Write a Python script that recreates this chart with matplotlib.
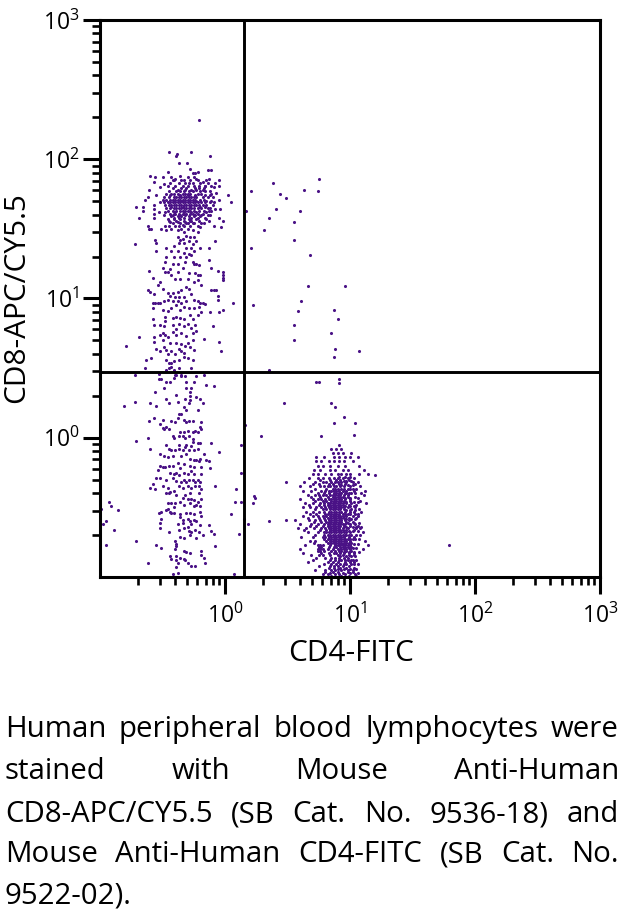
import numpy as np
import matplotlib
matplotlib.use("Agg")
import matplotlib.pyplot as plt

plt.rcParams['font.family'] = ['Open Sans', 'DejaVu Sans']
plt.rcParams['mathtext.default'] = 'regular'

# all events are read off the plot as decades (log10 of the axis value)
# dense clusters: (CD8 decade, [CD4 decades])
cd8_core_rows = [
    (1.79, [-0.42, -0.35, -0.31, -0.24, -0.21, -0.17]),
    (1.77, [-0.45, -0.39, -0.36, -0.33, -0.29, -0.26, -0.20, -0.16, -0.12]),
    (1.75, [-0.47, -0.43, -0.41, -0.38, -0.34, -0.32, -0.30, -0.28, -0.22, -0.19, -0.11]),
    (1.73, [-0.49, -0.45, -0.41, -0.39, -0.37, -0.35, -0.33, -0.31, -0.29, -0.27, -0.25, -0.23, -0.18, -0.14, -0.10]),
    (1.71, [-0.50, -0.47, -0.44, -0.42, -0.40, -0.38, -0.36, -0.34, -0.32, -0.30, -0.28, -0.26, -0.24, -0.20, -0.17]),
    (1.69, [-0.49, -0.46, -0.44, -0.42, -0.40, -0.38, -0.36, -0.34, -0.32, -0.30, -0.28, -0.26, -0.24, -0.22, -0.19, -0.16, -0.12, -0.09]),
    (1.67, [-0.48, -0.45, -0.43, -0.41, -0.39, -0.37, -0.35, -0.33, -0.31, -0.29, -0.27, -0.25, -0.23, -0.21, -0.18, -0.15, -0.10]),
    (1.65, [-0.47, -0.44, -0.41, -0.39, -0.37, -0.35, -0.33, -0.31, -0.29, -0.27, -0.25, -0.22, -0.19, -0.14, -0.12]),
    (1.63, [-0.46, -0.42, -0.39, -0.36, -0.34, -0.32, -0.30, -0.28, -0.25, -0.21, -0.17, -0.13, -0.11]),
    (1.61, [-0.44, -0.40, -0.37, -0.34, -0.31, -0.28, -0.26, -0.22, -0.18]),
    (1.59, [-0.43, -0.38, -0.35, -0.29, -0.25, -0.20]),
]
cd8_fill_rows = [
    (1.85, [-0.41, -0.35, -0.28, -0.22, -0.15]),
    (1.83, [-0.44, -0.37, -0.32, -0.26, -0.20, -0.14]),
    (1.81, [-0.46, -0.40, -0.34, -0.30, -0.25, -0.21, -0.16, -0.11]),
    (1.78, [-0.38, -0.32, -0.27, -0.23, -0.18]),
    (1.74, [-0.44, -0.36, -0.30, -0.24, -0.16, -0.12]),
    (1.70, [-0.41, -0.35, -0.29, -0.23, -0.15, -0.11]),
    (1.66, [-0.43, -0.34, -0.28, -0.20, -0.16]),
    (1.62, [-0.48, -0.41, -0.33, -0.27, -0.23, -0.15]),
    (1.60, [-0.42, -0.36, -0.32, -0.24, -0.19, -0.14]),
    (1.58, [-0.41, -0.37, -0.33, -0.27, -0.22, -0.16]),
    (1.56, [-0.45, -0.39, -0.33, -0.28, -0.21, -0.13]),
    (1.54, [-0.42, -0.36, -0.31, -0.26, -0.19]),
    (1.52, [-0.45, -0.37, -0.33, -0.28, -0.22]),
]
cd8_halo = [
    (-0.21, 2.285), (-0.445, 2.05), (-0.386, 2.037), (-0.39, 2.02), (-0.274, 2.05), (-0.12, 2.02),
    (-0.368, 1.974), (-0.306, 1.974), (-0.282, 1.93), (-0.26, 1.90), (-0.24, 1.90), (-0.22, 1.91),
    (-0.25, 1.87), (-0.23, 1.86), (-0.134, 1.924), (-0.115, 1.924), (-0.60, 1.88), (-0.57, 1.84),
    (-0.56, 1.87), (-0.50, 1.875), (-0.46, 1.91), (-0.49, 1.82), (-0.52, 1.80), (-0.43, 1.87),
    (-0.42, 1.85), (-0.40, 1.86), (-0.36, 1.88), (-0.33, 1.85), (-0.30, 1.87), (-0.29, 1.83),
    (-0.18, 1.84), (-0.16, 1.81), (-0.13, 1.86), (-0.72, 1.39), (-0.71, 1.66), (-0.69, 1.58),
    (-0.66, 1.66), (-0.66, 1.63), (-0.64, 1.71), (-0.62, 1.73), (-0.61, 1.78), (-0.62, 1.52),
    (-0.59, 1.50), (-0.61, 1.50), (-0.57, 1.67), (-0.57, 1.64), (-0.57, 1.61), (-0.57, 1.58),
    (-0.55, 1.74), (-0.52, 1.69), (-0.53, 1.62), (-0.49, 1.60), (-0.51, 1.50), (-0.48, 1.52),
    (-0.44, 1.55), (-0.40, 1.52), (-0.36, 1.57), (-0.32, 1.55), (-0.29, 1.57), (-0.25, 1.54),
    (-0.20, 1.51), (-0.17, 1.54), (-0.09, 1.52), (-0.03, 1.51), (-0.02, 1.56), (-0.05, 1.58),
    (-0.08, 1.64), (-0.04, 1.64), (-0.05, 1.71), (-0.07, 1.76), (-0.05, 1.81), (-0.08, 1.83),
    (-0.09, 1.80), (0.02, 1.74), (0.05, 1.69), (-0.05, 1.85), (-0.46, 1.57), (-0.41, 1.57),
    (-0.38, 1.55), (-0.34, 1.53), (-0.30, 1.54), (-0.27, 1.56), (-0.23, 1.57), (-0.15, 1.57),
    (-0.12, 1.60), (-0.47, 1.49), (-0.43, 1.50), (-0.38, 1.49), (-0.35, 1.50), (-0.33, 1.48),
    (-0.30, 1.50), (-0.26, 1.49), (-0.22, 1.48), (-0.38, 1.44), (-0.36, 1.42), (-0.34, 1.43),
    (-0.31, 1.45), (-0.28, 1.44), (-0.25, 1.44), (-0.41, 1.38), (-0.37, 1.40), (-0.33, 1.40),
    (-0.29, 1.41), (-0.26, 1.39), (-0.08, 1.41), (-0.23, 1.41), (-0.27, 1.36), (-0.31, 1.36),
]
cd8_mid = [
    (-0.56, 1.42), (-0.55, 1.40), (-0.55, 1.34), (-0.47, 1.36), (-0.47, 1.30), (-0.43, 1.34),
    (-0.41, 1.30), (-0.38, 1.34), (-0.36, 1.30), (-0.33, 1.33), (-0.31, 1.30), (-0.29, 1.32),
    (-0.27, 1.31), (-0.25, 1.34), (-0.13, 1.36), (-0.20, 1.36), (-0.61, 1.20), (-0.58, 1.15),
    (-0.54, 1.10), (-0.52, 1.12), (-0.50, 1.07), (-0.50, 1.22), (-0.48, 1.26), (-0.48, 1.19),
    (-0.46, 1.19), (-0.44, 1.21), (-0.43, 1.17), (-0.42, 1.25), (-0.40, 1.14), (-0.38, 1.19),
    (-0.38, 1.25), (-0.36, 1.14), (-0.34, 1.22), (-0.32, 1.26), (-0.30, 1.14), (-0.29, 1.18),
    (-0.26, 1.26), (-0.25, 1.25), (-0.23, 1.25), (-0.21, 1.24), (-0.24, 1.18), (-0.22, 1.17),
    (-0.20, 1.17), (-0.25, 1.12), (-0.22, 1.13), (-0.19, 1.10), (-0.13, 1.28), (-0.11, 1.22),
    (-0.02, 1.19), (-0.02, 1.17), (-0.02, 1.15), (-0.02, 1.13), (-0.06, 1.20), (-0.11, 1.06),
    (-0.09, 1.06), (-0.07, 1.06), (-0.06, 1.02), (-0.06, 0.99), (-0.62, 1.06), (-0.60, 1.05),
    (-0.57, 1.03), (-0.46, 1.04), (-0.44, 1.02), (-0.42, 1.04), (-0.40, 1.01), (-0.38, 1.05),
    (-0.37, 1.01), (-0.35, 1.06), (-0.33, 1.01), (-0.31, 1.08), (-0.29, 1.07), (-0.27, 1.03),
    (-0.58, 0.97), (-0.56, 0.97), (-0.54, 0.97), (-0.52, 0.97), (-0.49, 0.98), (-0.46, 0.99),
    (-0.42, 0.98), (-0.38, 0.98), (-0.35, 0.97), (-0.31, 0.98), (-0.25, 0.99), (-0.22, 0.98),
    (-0.20, 0.97), (-0.18, 0.97), (-0.58, 0.93), (-0.50, 0.92), (-0.46, 0.91), (-0.43, 0.93),
    (-0.39, 0.95), (-0.36, 0.92), (-0.33, 0.94), (-0.29, 0.93), (-0.25, 0.93), (-0.21, 0.94),
    (-0.16, 0.96), (-0.12, 0.90), (-0.05, 0.90), (-0.19, 0.90), (0.06, 0.97), (-0.02, 0.92),
    (-0.48, 0.87), (-0.48, 0.84), (-0.42, 0.86), (-0.39, 0.87), (-0.36, 0.86), (-0.33, 0.85),
    (-0.28, 0.88), (-0.26, 0.85), (-0.22, 0.88), (-0.58, 0.85), (-0.57, 0.81), (-0.52, 0.81),
    (-0.49, 0.80), (-0.42, 0.81), (-0.39, 0.78), (-0.37, 0.82), (-0.33, 0.80), (-0.30, 0.82),
    (-0.27, 0.79), (-0.24, 0.81), (-0.10, 0.80), (-0.50, 0.75), (-0.48, 0.74), (-0.42, 0.76),
    (-0.39, 0.74), (-0.35, 0.75), (-0.31, 0.73), (-0.26, 0.75), (-0.23, 0.77), (-0.57, 0.72),
    (-0.57, 0.69), (-0.52, 0.74), (-0.50, 0.70), (-0.46, 0.72), (-0.44, 0.68), (-0.39, 0.68),
    (-0.35, 0.67), (-0.32, 0.66), (-0.30, 0.68), (-0.26, 0.70), (-0.17, 0.71), (-0.05, 0.69),
    (-0.55, 0.64), (-0.52, 0.62), (-0.49, 0.65), (-0.47, 0.63), (-0.46, 0.60), (-0.43, 0.62),
    (-0.40, 0.60), (-0.37, 0.64), (-0.35, 0.62), (-0.33, 0.61), (-0.28, 0.65), (-0.25, 0.63),
    (-0.03, 0.62), (-0.47, 0.56), (-0.45, 0.54), (-0.43, 0.54), (-0.41, 0.55), (-0.37, 0.56),
    (-0.33, 0.58), (-0.30, 0.57), (-0.26, 0.56), (-0.45, 0.50), (-0.43, 0.51), (-0.41, 0.49),
    (-0.37, 0.50), (-0.27, 0.50), (-0.47, 0.49), (-0.53, 0.46), (-0.40, 0.45), (-0.35, 0.45),
]
cd8_low = [
    (-0.53, 0.42), (-0.51, 0.42), (-0.47, 0.40), (-0.44, 0.40), (-0.41, 0.43), (-0.32, 0.44),
    (-0.31, 0.40), (-0.25, 0.40), (-0.17, 0.45), (-0.15, 0.38), (-0.09, 0.37), (-0.39, 0.45),
    (-0.27, 0.36), (-0.49, 0.36), (-0.35, 0.44), (-0.23, 0.44), (-0.31, 0.36), (-0.28, 0.33),
    (-0.56, 0.33), (-0.39, 0.31), (-0.28, 0.30), (-0.23, 0.29), (-0.20, 0.28), (-0.60, 0.25),
    (-0.55, 0.23), (-0.47, 0.28), (-0.45, 0.25), (-0.38, 0.26), (-0.32, 0.28), (-0.29, 0.25),
    (-0.28, 0.27), (-0.18, 0.25), (-0.33, 0.22), (-0.31, 0.20), (-0.22, 0.20), (-0.37, 0.17),
    (-0.35, 0.17), (-0.61, 0.12), (-0.57, 0.14), (-0.52, 0.10), (-0.50, 0.13), (-0.43, 0.12),
    (-0.40, 0.11), (-0.38, 0.14), (-0.33, 0.13), (-0.31, 0.11), (-0.29, 0.12), (-0.26, 0.12),
    (-0.19, 0.11), (-0.20, 0.08), (-0.50, 0.07), (-0.49, 0.06), (-0.47, 0.08), (-0.45, 0.06),
    (-0.19, 0.06), (-0.36, 0.04), (-0.33, 0.04), (-0.30, 0.05), (-0.26, 0.04), (-0.24, 0.05),
    (-0.22, 0.04), (-0.42, 0.01), (-0.41, 0.00), (-0.37, 0.01), (-0.34, 0.01), (-0.32, 0.00),
    (-0.29, 0.01), (-0.62, 0.00), (-0.26, -0.01), (-0.26, -0.03), (-0.22, -0.04), (-0.20, -0.04),
    (-0.11, -0.04), (-0.47, -0.05), (-0.37, -0.05), (-0.31, -0.05), (-0.27, -0.06), (-0.60, -0.08),
    (-0.45, -0.08), (-0.43, -0.09), (-0.40, -0.09), (-0.37, -0.08), (-0.34, -0.09), (-0.32, -0.07),
    (-0.29, -0.09), (-0.25, -0.09), (-0.22, -0.08), (-0.52, -0.12), (-0.49, -0.13), (-0.46, -0.14),
    (-0.42, -0.13), (-0.35, -0.13), (-0.31, -0.12), (-0.17, -0.12), (-0.20, -0.15), (-0.28, -0.15),
    (-0.25, -0.16), (-0.23, -0.16), (-0.21, -0.17), (-0.15, -0.16), (-0.13, -0.17), (-0.52, -0.20),
    (-0.50, -0.21), (-0.48, -0.21), (-0.45, -0.20), (-0.42, -0.20), (-0.38, -0.18), (-0.36, -0.22),
    (-0.33, -0.19), (-0.28, -0.20), (-0.25, -0.21), (-0.19, -0.21), (-0.12, -0.22), (-0.54, -0.23),
    (-0.44, -0.25), (-0.41, -0.26), (-0.39, -0.25), (-0.37, -0.27), (-0.33, -0.25), (-0.30, -0.26),
    (-0.27, -0.24), (-0.25, -0.26), (-0.19, -0.26), (-0.55, -0.29), (-0.52, -0.29), (-0.47, -0.30),
    (-0.42, -0.29), (-0.39, -0.31), (-0.35, -0.32), (-0.33, -0.30), (-0.31, -0.32), (-0.29, -0.30),
    (-0.26, -0.30), (-0.24, -0.32), (-0.22, -0.30), (-0.20, -0.32), (-0.58, -0.33), (-0.60, -0.36),
    (-0.56, -0.37), (-0.50, -0.35), (-0.46, -0.36), (-0.44, -0.39), (-0.41, -0.38), (-0.37, -0.35),
    (-0.34, -0.36), (-0.30, -0.35), (-0.27, -0.36), (-0.24, -0.35), (-0.21, -0.35), (-0.19, -0.37),
    (-0.08, -0.35), (-0.47, -0.40), (-0.45, -0.40), (-0.39, -0.41), (-0.32, -0.41), (-0.28, -0.40),
    (-0.21, -0.40), (-0.34, -0.43), (-0.30, -0.44), (-0.27, -0.44), (-0.25, -0.45), (-0.22, -0.46),
    (-0.19, -0.44), (-0.46, -0.47), (-0.43, -0.47), (-0.40, -0.47), (-0.36, -0.46), (-0.33, -0.48),
    (-0.28, -0.47), (-0.25, -0.49), (-0.23, -0.48), (-0.20, -0.49), (-0.46, -0.51), (-0.44, -0.53),
    (-0.41, -0.50), (-0.53, -0.54), (-0.51, -0.53), (-0.47, -0.52), (-0.43, -0.54), (-0.41, -0.54),
    (-0.36, -0.55), (-0.31, -0.54), (-0.28, -0.54), (-0.25, -0.55), (-0.20, -0.53), (-0.51, -0.58),
    (-0.36, -0.57), (-0.34, -0.59), (-0.30, -0.58), (-0.28, -0.60), (-0.25, -0.59), (-0.23, -0.60),
    (-0.19, -0.56), (-0.52, -0.61), (-0.38, -0.62), (-0.34, -0.61), (-0.30, -0.64), (-0.27, -0.62),
    (-0.20, -0.63), (-0.13, -0.63), (-0.52, -0.65), (-0.45, -0.68), (-0.37, -0.66), (-0.33, -0.65),
    (-0.29, -0.67), (-0.27, -0.68), (-0.24, -0.66), (-0.21, -0.68), (-0.11, -0.67), (-0.09, -0.69),
    (-0.36, -0.71), (-0.33, -0.72), (-0.28, -0.70), (-0.23, -0.72), (-0.18, -0.70), (-0.55, -0.77),
    (-0.51, -0.79), (-0.40, -0.74), (-0.39, -0.76), (-0.39, -0.78), (-0.40, -0.80), (-0.33, -0.81),
    (-0.31, -0.82), (-0.28, -0.83), (-0.19, -0.81), (-0.08, -0.78), (-0.44, -0.85), (-0.43, -0.87),
    (-0.39, -0.85), (-0.39, -0.88), (-0.38, -0.90), (-0.36, -0.86), (-0.33, -0.87), (-0.19, -0.84),
    (-0.17, -0.86), (-0.32, -0.88), (-0.30, -0.90), (-0.39, -0.93), (-0.27, -0.92), (-0.24, -0.92),
    (-0.42, -0.98), (-0.38, -0.97), (-0.16, -0.90),
]
cd4_core_rows = [
    (-0.98, [0.78, 0.82, 0.88, 0.91, 0.96, 1.04]),
    (-0.965, [0.80, 0.86, 0.90, 0.98, 1.02]),
    (-0.95, [0.72, 0.80, 0.85, 0.88, 0.93, 0.98, 1.02]),
    (-0.935, [0.83, 0.87, 0.92, 0.97, 1.03]),
    (-0.92, [0.75, 0.84, 0.87, 0.90, 0.94, 0.99]),
    (-0.905, [0.79, 0.85, 0.89, 0.95, 1.01]),
    (-0.89, [0.66, 0.82, 0.86, 0.90, 0.96, 1.00, 1.03]),
    (-0.875, [0.70, 0.84, 0.88, 0.93, 0.98, 1.02]),
    (-0.86, [0.73, 0.80, 0.85, 0.88, 0.91, 0.95, 0.98]),
    (-0.845, [0.69, 0.75, 0.78, 0.84, 0.90, 0.94, 0.99, 1.03]),
    (-0.83, [0.62, 0.77, 0.83, 0.87, 0.89, 0.92, 0.95, 0.99, 1.03]),
    (-0.815, [0.74, 0.76, 0.79, 0.85, 0.88, 0.91, 0.93, 0.97, 1.01]),
    (-0.80, [0.60, 0.74, 0.76, 0.78, 0.82, 0.86, 0.90, 0.93, 0.95, 0.97, 1.00, 1.10]),
    (-0.785, [0.75, 0.77, 0.83, 0.87, 0.89, 0.92, 0.94, 0.96, 0.98, 1.01]),
    (-0.77, [0.64, 0.74, 0.76, 0.78, 0.84, 0.88, 0.90, 0.92, 0.94, 0.96, 0.98, 1.00, 1.14]),
    (-0.755, [0.71, 0.82, 0.85, 0.87, 0.89, 0.91, 0.93, 0.95, 0.97, 0.99, 1.01]),
    (-0.74, [0.68, 0.72, 0.81, 0.84, 0.86, 0.88, 0.90, 0.93, 0.95, 0.97, 1.00, 1.12]),
    (-0.725, [0.79, 0.82, 0.85, 0.87, 0.89, 0.91, 0.93, 0.95, 0.98, 1.02]),
    (-0.71, [0.61, 0.70, 0.78, 0.80, 0.83, 0.85, 0.87, 0.89, 0.91, 0.93, 0.95, 0.99, 1.03]),
    (-0.695, [0.72, 0.79, 0.82, 0.84, 0.86, 0.88, 0.90, 0.92, 0.94, 0.96, 0.99, 1.08]),
    (-0.68, [0.66, 0.74, 0.79, 0.81, 0.83, 0.85, 0.87, 0.89, 0.91, 0.93, 0.95, 0.97, 1.00, 1.10]),
    (-0.665, [0.63, 0.76, 0.81, 0.84, 0.86, 0.88, 0.90, 0.92, 0.94, 0.97, 1.03]),
    (-0.65, [0.58, 0.65, 0.71, 0.77, 0.80, 0.83, 0.85, 0.87, 0.89, 0.91, 0.94, 0.98, 1.05, 1.08]),
    (-0.635, [0.68, 0.73, 0.78, 0.82, 0.84, 0.86, 0.88, 0.90, 0.92, 0.95, 1.00, 1.06]),
    (-0.62, [0.60, 0.69, 0.74, 0.79, 0.82, 0.84, 0.86, 0.88, 0.90, 0.92, 0.94, 0.96, 1.00, 1.04]),
    (-0.605, [0.71, 0.77, 0.81, 0.83, 0.85, 0.87, 0.89, 0.91, 0.93, 0.97, 1.02]),
    (-0.59, [0.56, 0.67, 0.72, 0.76, 0.80, 0.83, 0.85, 0.87, 0.89, 0.91, 0.93, 0.96, 0.99]),
    (-0.575, [0.66, 0.75, 0.79, 0.82, 0.85, 0.87, 0.89, 0.91, 0.93, 0.95, 0.99, 1.05]),
    (-0.56, [0.62, 0.70, 0.74, 0.78, 0.81, 0.84, 0.86, 0.88, 0.90, 0.92, 0.94, 0.97, 1.02, 1.06]),
    (-0.545, [0.68, 0.73, 0.80, 0.82, 0.85, 0.87, 0.89, 0.91, 0.94, 0.98, 1.04]),
    (-0.53, [0.65, 0.70, 0.75, 0.79, 0.83, 0.85, 0.87, 0.89, 0.91, 0.93, 0.96, 1.00, 1.03, 1.09]),
    (-0.515, [0.72, 0.78, 0.81, 0.84, 0.86, 0.88, 0.90, 0.92, 0.95, 1.01, 1.07]),
    (-0.50, [0.62, 0.68, 0.73, 0.77, 0.80, 0.83, 0.85, 0.87, 0.89, 0.91, 0.93, 0.95, 0.98, 1.04]),
    (-0.485, [0.67, 0.75, 0.79, 0.82, 0.84, 0.86, 0.88, 0.90, 0.92, 0.94, 0.99, 1.05]),
    (-0.47, [0.64, 0.70, 0.76, 0.79, 0.82, 0.84, 0.86, 0.88, 0.90, 0.92, 0.94, 0.97, 1.01, 1.13]),
    (-0.455, [0.72, 0.78, 0.81, 0.85, 0.87, 0.89, 0.91, 0.93, 0.95, 1.00, 1.08]),
    (-0.44, [0.60, 0.70, 0.74, 0.77, 0.80, 0.83, 0.85, 0.87, 0.89, 0.91, 0.93, 0.96, 1.00]),
    (-0.425, [0.69, 0.76, 0.82, 0.86, 0.88, 0.90, 0.92, 0.94, 0.98, 1.04]),
    (-0.41, [0.66, 0.72, 0.75, 0.78, 0.81, 0.84, 0.86, 0.88, 0.90, 0.92, 0.95, 0.98, 1.11]),
    (-0.395, [0.74, 0.79, 0.83, 0.87, 0.89, 0.91, 0.93, 0.96, 1.01, 1.09]),
    (-0.38, [0.62, 0.69, 0.77, 0.80, 0.83, 0.85, 0.87, 0.89, 0.91, 0.94, 0.97, 1.03, 1.12]),
    (-0.365, [0.72, 0.81, 0.86, 0.88, 0.90, 0.93, 0.98, 1.05]),
    (-0.35, [0.60, 0.68, 0.76, 0.79, 0.82, 0.84, 0.87, 0.89, 0.92, 0.95, 1.00, 1.08]),
    (-0.335, [0.70, 0.75, 0.83, 0.86, 0.91, 0.96, 1.04]),
    (-0.32, [0.63, 0.72, 0.78, 0.81, 0.85, 0.88, 0.90, 0.93, 0.97, 1.02, 1.06]),
    (-0.305, [0.76, 0.84, 0.89, 0.92, 0.99]),
    (-0.29, [0.67, 0.74, 0.78, 0.83, 0.87, 0.90, 0.94, 0.98, 1.03]),
    (-0.26, [0.70, 0.74, 0.80, 0.85, 0.90, 0.93, 0.97, 1.00, 1.07, 1.14]),
    (-0.23, [0.71, 0.76, 0.84, 0.88, 0.94, 0.98, 1.11]),
    (-0.20, [0.74, 0.78, 0.84, 0.90, 0.96, 1.07]),
    (-0.17, [0.73, 0.77, 0.83, 0.87, 0.91, 0.95, 1.02]),
    (-0.14, [0.73, 0.79, 0.87, 0.91, 0.96, 1.00, 1.06]),
    (-0.11, [0.86, 0.90, 0.94, 1.01]),
    (-0.08, [0.85, 0.89, 0.93]),
    (-0.05, [0.91]),
]
cd4_fill_rows = [
    (-0.99, [0.85, 0.93, 0.99, 1.05]),
    (-0.97, [0.84, 0.94, 1.00, 1.06]),
    (-0.94, [0.90, 0.95, 1.00, 1.05]),
    (-0.91, [0.92, 0.97, 1.03, 1.06]),
    (-0.88, [0.91, 0.96, 1.01, 1.05]),
    (-0.85, [0.92, 0.97, 1.01, 1.04]),
    (-0.82, [0.95, 0.99, 1.03, 1.07]),
    (-0.79, [0.99, 1.02, 1.05]),
    (-0.76, [0.94, 1.00, 1.03, 1.06]),
    (-0.73, [0.96, 1.00, 1.04, 1.07]),
    (-0.70, [0.97, 1.01, 1.05]),
    (-0.67, [0.99, 1.02, 1.06]),
    (-0.64, [0.97, 1.02, 1.05, 1.09]),
    (-0.61, [0.98, 1.03, 1.07]),
    (-0.58, [0.97, 1.01, 1.04]),
    (-0.55, [0.96, 1.00, 1.06]),
    (-0.52, [0.97, 1.00, 1.04]),
    (-0.49, [0.96, 1.00, 1.03]),
    (-0.46, [0.97, 1.03, 1.06]),
    (-0.43, [0.96, 1.00, 1.06]),
    (-0.40, [0.97, 0.99, 1.04]),
    (-0.37, [0.95, 1.00, 1.02]),
    (-0.34, [0.93, 0.98, 1.02]),
    (-0.31, [0.95, 0.97, 1.01]),
    (-0.28, [0.91, 0.96, 1.00]),
]
stray_events = [
    (0.205, 1.77), (0.17, 1.63), (0.205, 1.36), (0.22, 0.955), (0.38, 1.83), (0.44, 1.75),
    (0.49, 1.72), (0.41, 1.64), (0.35, 1.58), (0.315, 1.49), (0.55, 1.55), (0.55, 1.42),
    (0.60, 1.63), (0.63, 1.78), (0.74, 1.77), (0.75, 1.86), (0.68, 1.31), (0.66, 1.09),
    (0.61, 0.98), (0.58, 0.91), (0.55, 0.81), (0.55, 0.70), (0.35, 0.48), (0.87, 0.92),
    (0.96, 1.09), (0.90, 0.85), (0.85, 0.75), (1.07, 0.62), (0.88, 0.64), (0.87, 0.58),
    (0.73, 0.40), (0.75, 0.40), (0.91, 0.42), (0.91, 0.39), (0.35, 0.49), (0.47, 0.25),
    (0.85, 0.25), (0.88, 0.22), (0.95, 0.15), (0.87, 0.105), (1.04, 0.105), (1.03, 0.02),
    (0.77, 0.01), (0.285, 0.01), (0.16, 0.09), (0.13, -0.05), (0.13, -0.25), (0.49, -0.32),
    (0.23, -0.42), (0.24, -0.43), (0.22, -0.47), (0.18, -0.62), (0.35, -0.60), (0.49, -0.59),
    (1.20, -0.27), (1.79, -0.77), (0.09, -0.37), (0.08, -0.46), (0.05, -0.55), (0.13, -0.46),
    (0.11, -0.69), (0.15, -0.58), (0.07, -0.98), (-0.05, -0.10), (-0.81, 0.23), (-0.72, 0.26),
    (-0.71, -0.02), (-0.93, -0.46), (-0.91, -0.49), (-0.86, -0.52), (-0.99, -0.51), (-0.95, -0.60),
    (-0.98, -0.62), (-0.885, -0.66), (-0.95, -0.77), (-0.71, -0.74), (-0.62, -0.90), (-0.79, 0.66),
    (-0.69, 0.72), (-0.72, 0.45), (-0.64, 0.50), (-0.63, 0.56), (-0.59, 0.57),
]
x_gate = 1.42
y_gate = 2.96
major_ticks = [1, 10, 100, 1000]
x_label = "CD4-FITC"
y_label = "CD8-APC/CY5.5"
caption_lines = [
    "Human peripheral blood lymphocytes were",
    "stained with Mouse Anti-Human",
    "CD8-APC/CY5.5 (SB Cat. No. 9536-18) and",
    "Mouse Anti-Human CD4-FITC (SB Cat. No.",
    "9522-02).",
]
caption_baselines = [737, 779, 822, 862, 903]

W, H = 626, 913


def rows_to_pairs(rows):
    return [(x, y) for y, xs in rows for x in xs]


def draw_caption(fig):
    # justified paragraph: each word is placed on its own, last line stays left
    renderer = fig.canvas.get_renderer()
    left, right = 5, 619
    for i, (line, base) in enumerate(zip(caption_lines, caption_baselines)):
        words = line.split(" ")
        items = [fig.text(left / W, 1 - base / H, w, fontsize=21.2, color="black",
                          ha="left", va="baseline") for w in words]
        widths = [t.get_window_extent(renderer).width for t in items]
        if i == len(caption_lines) - 1 or len(words) == 1:
            gap = 7
        else:
            gap = (right - left - sum(widths)) / (len(words) - 1)
        pos = left
        for t, w in zip(items, widths):
            t.set_x(pos / W)
            pos += w + gap


events = np.array(rows_to_pairs(cd8_core_rows) + rows_to_pairs(cd8_fill_rows) + cd8_halo
                  + cd8_mid + cd8_low + rows_to_pairs(cd4_core_rows)
                  + rows_to_pairs(cd4_fill_rows) + stray_events)

fig = plt.figure(figsize=(W / 100, H / 100), dpi=100)
ax = fig.add_axes([100 / W, 1 - 577 / H, 500 / W, 557 / H])

ax.scatter(10 ** events[:, 0], 10 ** events[:, 1], s=5, marker="o", color="#4a1286",
           linewidths=0, zorder=2)
ax.axvline(x_gate, color="black", lw=2.1, zorder=3)
ax.axhline(y_gate, color="black", lw=2.1, zorder=3)

ax.set_xscale("log")
ax.set_yscale("log")
ax.set_xlim(0.1, 1000)
ax.set_ylim(0.1, 1000)

minor_ticks = [m * d for d in (0.1, 1, 10, 100) for m in range(2, 10)]
labels = [f"$\\mathregular{{10^{{{i}}}}}$" for i in range(len(major_ticks))]
for axis in (ax.xaxis, ax.yaxis):
    axis.set_ticks(major_ticks, labels=labels)
    axis.set_ticks(minor_ticks, minor=True)
    axis.set_tick_params(which="minor", labelleft=False, labelbottom=False)

ax.tick_params(which="major", length=12, width=2.2, labelsize=16.5, color="black")
ax.tick_params(which="minor", length=5.5, width=1.9, color="black")
ax.tick_params(axis="x", which="major", pad=7)
ax.tick_params(axis="y", which="major", pad=3)
for spine in ax.spines.values():
    spine.set_linewidth(2.2)
    spine.set_zorder(4)

fig.text(351 / W, 1 - 661 / H, x_label, fontsize=21.4, ha="center", va="baseline")
fig.text(17 / W, 1 - 298 / H, y_label, fontsize=21.4, rotation=90, ha="center", va="center")

fig.canvas.draw()
draw_caption(fig)

fig.savefig("out.png", dpi=100)
